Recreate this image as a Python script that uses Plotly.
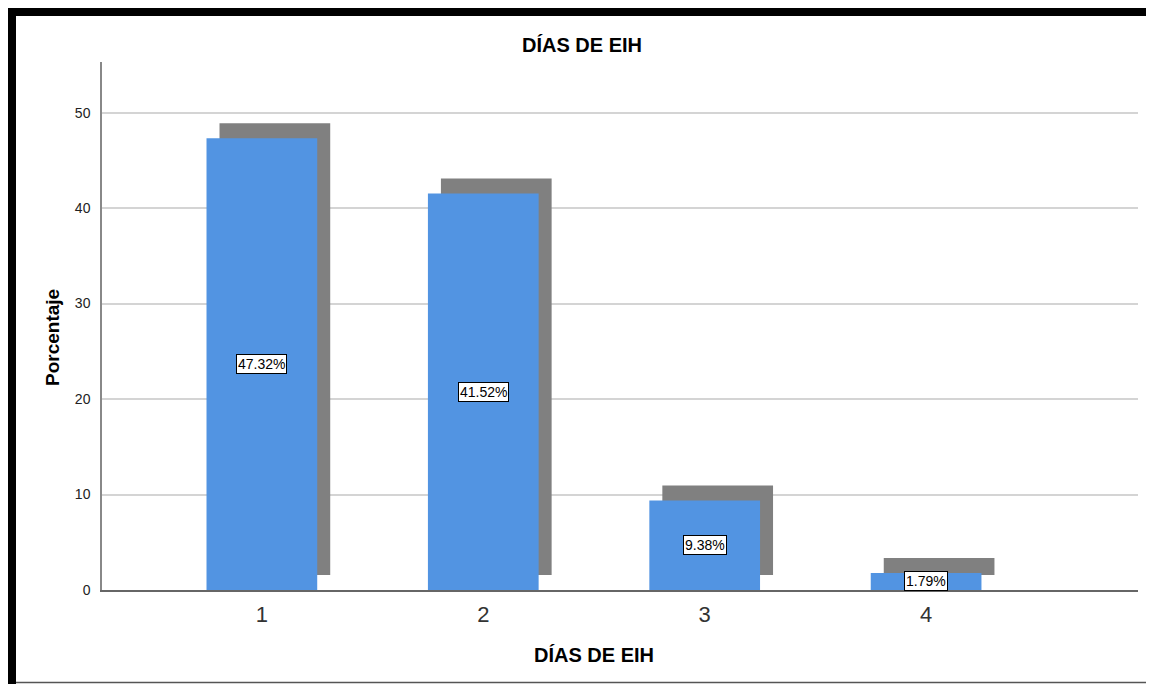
import plotly.graph_objects as go

# ---- data ----
categories = [1, 2, 3, 4]
percentages = [47.32, 41.52, 9.38, 1.79]
labels = ["47.32%", "41.52%", "9.38%", "1.79%"]
tick_text = ["1", "2", "3", "4"]

# ---- layout geometry (viewport pixels; page body adds an 8px offset) ----
W, H = 1154, 684
OFF = 8
L, R, T, B = 102, 1138, 62, 590   # plot area edges
Y_MAX = 55.3
X_RANGE = [0.278, 4.957]

def px(x):
    return (x - L) / (R - L)

def py(y):
    return (B - y) / (B - T)

units_per_px_y = Y_MAX / (B - T)
units_per_px_x = (X_RANGE[1] - X_RANGE[0]) / (R - L)
shadow_dx = 13 * units_per_px_x
shadow_dy = 15 * units_per_px_y
bar_w = 0.5

BLUE = "#5294e2"
GRAY = "#808080"
FONT = "Liberation Sans, Arial, sans-serif"

fig = go.Figure()
# shadow bars
fig.add_trace(go.Bar(
    x=categories, y=percentages, base=shadow_dy,
    width=bar_w, offset=-bar_w / 2 + shadow_dx,
    marker=dict(color=GRAY, line=dict(width=0)),
    hoverinfo="skip", showlegend=False,
))
# main bars
fig.add_trace(go.Bar(
    x=categories, y=percentages,
    width=bar_w, offset=-bar_w / 2,
    marker=dict(color=BLUE, line=dict(width=0)),
    showlegend=False,
))

annotations = []
for c, v, t in zip(categories, percentages, labels):
    annotations.append(dict(
        x=c, y=v / 2, xref="x", yref="y", text=t, showarrow=False,
        bgcolor="white", bordercolor="black", borderwidth=1, borderpad=1,
        font=dict(family=FONT, size=14, color="black"),
    ))

annotations.append(dict(
    x=px(594), y=py(655), xref="paper", yref="paper", text="<b>DÍAS DE EIH</b>",
    showarrow=False, font=dict(family=FONT, size=20, color="black"),
    xanchor="center", yanchor="middle",
))
annotations.append(dict(
    x=px(52), y=py(338), xref="paper", yref="paper", text="<b>Porcentaje</b>",
    showarrow=False, textangle=-90, font=dict(family=FONT, size=19, color="black"),
    xanchor="center", yanchor="middle",
))

shapes = [
    # black frame top and left
    dict(type="rect", xref="paper", yref="paper", x0=px(8), x1=px(1150), y0=py(8), y1=py(16),
         fillcolor="black", line=dict(width=0), layer="above"),
    dict(type="rect", xref="paper", yref="paper", x0=px(8), x1=px(16), y0=py(8), y1=py(684),
         fillcolor="black", line=dict(width=0), layer="above"),
    # thin right and bottom edges
    dict(type="line", xref="paper", yref="paper", x0=px(1151), x1=px(1151), y0=py(8), y1=py(683),
         line=dict(color="#444444", width=2), layer="above"),
    dict(type="line", xref="paper", yref="paper", x0=px(16), x1=px(1151), y0=py(682.5), y1=py(682.5),
         line=dict(color="#555555", width=1.5), layer="above"),
]

fig.update_layout(
    width=W - OFF, height=H - OFF,
    margin=dict(l=L - OFF, r=W - R, t=T - OFF, b=H - B, pad=0),
    paper_bgcolor="white", plot_bgcolor="white",
    barmode="overlay",
    title=dict(text="<b>DÍAS DE EIH</b>", x=px(582), xref="paper", xanchor="center",
               y=1 - (45 - OFF) / (H - OFF), yref="container", yanchor="middle",
               font=dict(family=FONT, size=20, color="black")),
    xaxis=dict(
        range=X_RANGE, tickmode="array", tickvals=categories, ticktext=tick_text,
        showgrid=False, zeroline=False, showline=True, linecolor="#666666", linewidth=1.5,
        ticks="", ticklabelstandoff=4, tickfont=dict(family=FONT, size=22, color="#333333"),
    ),
    yaxis=dict(
        range=[0, Y_MAX], tickmode="linear", tick0=0, dtick=10,
        showgrid=True, gridcolor="#d4d4d4", gridwidth=1.5,
        zeroline=False, showline=True, linecolor="#888888", linewidth=1.5,
        ticks="", ticklabelstandoff=7, tickfont=dict(family=FONT, size=14, color="#222222"),
    ),
    annotations=annotations,
    shapes=shapes,
    font=dict(family=FONT),
)

fig.write_html("out.html")
